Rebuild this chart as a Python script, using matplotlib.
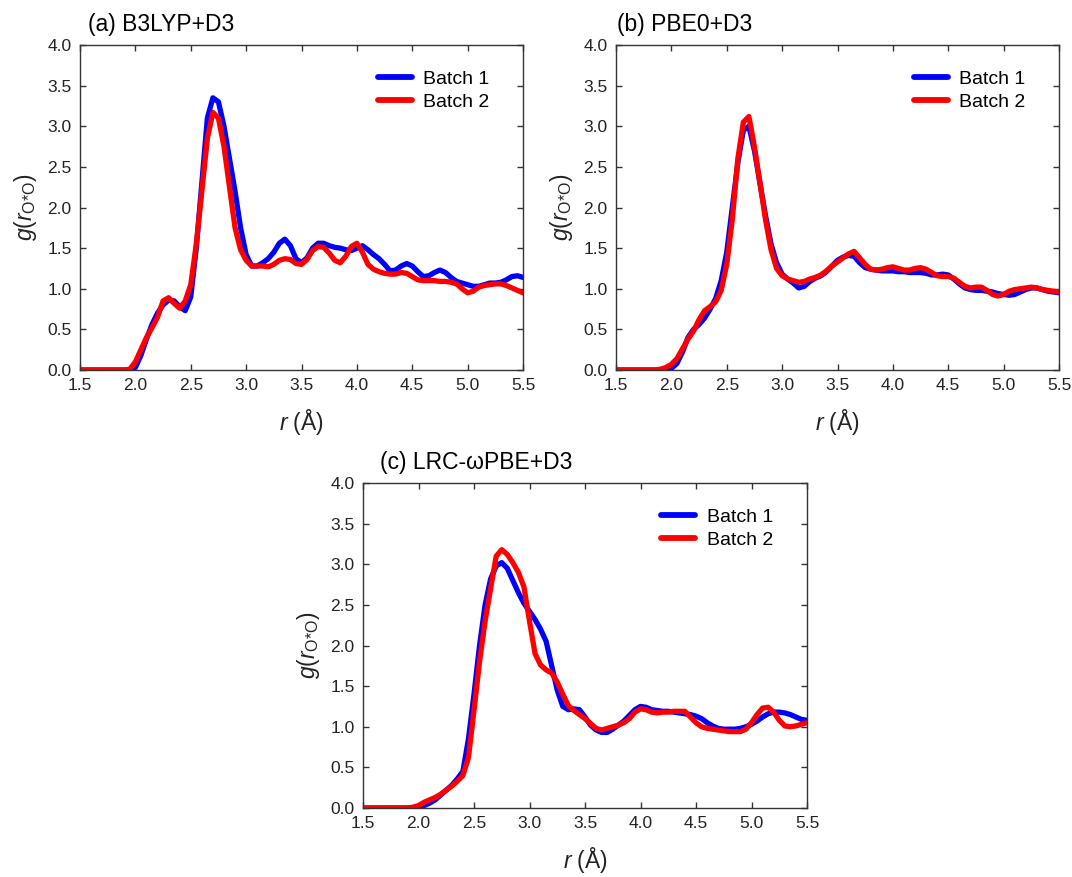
import numpy as np
import matplotlib
matplotlib.use("Agg")
import matplotlib.pyplot as plt

plt.rcParams['font.family'] = ['Liberation Sans', 'DejaVu Sans']
plt.rcParams['mathtext.fontset'] = 'custom'
plt.rcParams['mathtext.rm'] = 'Liberation Sans'
plt.rcParams['mathtext.it'] = 'Liberation Sans:italic'
plt.rcParams['mathtext.bf'] = 'Liberation Sans:bold'

# r grid (Å), 0.05 Å sampling
r = np.linspace(1.5, 5.5, 81)

# (a) B3LYP+D3
a_batch1 = [0, 0, 0, 0, 0, 0, 0, 0, 0, 0,
            0.03, 0.18, 0.38, 0.56, 0.70, 0.80, 0.86, 0.85, 0.78, 0.73,
            0.90, 1.50, 2.30, 3.10, 3.35, 3.30, 3.00, 2.60, 2.20, 1.75,
            1.42, 1.28, 1.28, 1.32, 1.37, 1.45, 1.56, 1.61, 1.53, 1.37,
            1.32, 1.38, 1.50, 1.56, 1.56, 1.53, 1.51, 1.50, 1.48, 1.47,
            1.50, 1.53, 1.48, 1.42, 1.37, 1.30, 1.22, 1.23, 1.28, 1.31,
            1.28, 1.21, 1.15, 1.16, 1.20, 1.23, 1.20, 1.14, 1.09, 1.07,
            1.05, 1.03, 1.03, 1.05, 1.07, 1.07, 1.08, 1.11, 1.15, 1.16,
            1.14]
a_batch2 = [0, 0, 0, 0, 0, 0, 0, 0, 0, 0.01,
            0.10, 0.25, 0.40, 0.52, 0.65, 0.85, 0.89, 0.82, 0.76, 0.85,
            1.05, 1.55, 2.20, 2.85, 3.17, 3.10, 2.75, 2.25, 1.75, 1.48,
            1.35, 1.28, 1.28, 1.28, 1.27, 1.30, 1.35, 1.37, 1.36, 1.31,
            1.30, 1.36, 1.47, 1.52, 1.51, 1.44, 1.35, 1.32, 1.40, 1.52,
            1.56, 1.45, 1.30, 1.24, 1.21, 1.19, 1.18, 1.18, 1.20, 1.19,
            1.15, 1.11, 1.10, 1.10, 1.10, 1.09, 1.09, 1.08, 1.06, 1.00,
            0.95, 0.97, 1.02, 1.04, 1.05, 1.06, 1.06, 1.04, 1.01, 0.98,
            0.95]

# (b) PBE0+D3
b_batch1 = [0, 0, 0, 0, 0, 0, 0, 0, 0, 0,
            0.02, 0.08, 0.22, 0.40, 0.50, 0.56, 0.64, 0.75, 0.88, 1.10,
            1.45, 2.00, 2.55, 2.95, 3.00, 2.70, 2.30, 1.90, 1.55, 1.32,
            1.18, 1.12, 1.07, 1.01, 1.03, 1.09, 1.13, 1.16, 1.21, 1.28,
            1.35, 1.39, 1.41, 1.40, 1.32, 1.26, 1.24, 1.23, 1.22, 1.22,
            1.22, 1.21, 1.21, 1.20, 1.20, 1.20, 1.19, 1.17, 1.17, 1.18,
            1.17, 1.12, 1.06, 1.01, 0.99, 0.98, 0.98, 0.97, 0.96, 0.94,
            0.93, 0.92, 0.93, 0.96, 0.99, 1.01, 1.01, 0.99, 0.97, 0.96,
            0.95]
b_batch2 = [0, 0, 0, 0, 0, 0, 0, 0, 0.01, 0.03,
            0.07, 0.14, 0.26, 0.38, 0.48, 0.62, 0.73, 0.78, 0.84, 0.98,
            1.30, 1.85, 2.60, 3.05, 3.12, 2.75, 2.30, 1.85, 1.48, 1.25,
            1.16, 1.12, 1.10, 1.08, 1.09, 1.12, 1.14, 1.17, 1.22, 1.28,
            1.33, 1.38, 1.43, 1.46, 1.38, 1.30, 1.24, 1.23, 1.24, 1.26,
            1.27, 1.25, 1.23, 1.23, 1.25, 1.26, 1.24, 1.20, 1.16, 1.15,
            1.15, 1.13, 1.08, 1.03, 1.01, 1.02, 1.02, 0.98, 0.93, 0.91,
            0.93, 0.97, 0.99, 1.00, 1.01, 1.02, 1.01, 0.99, 0.98, 0.97,
            0.96]

# (c) LRC-wPBE+D3
c_batch1 = [0, 0, 0, 0, 0, 0, 0, 0, 0, 0,
            0.01, 0.03, 0.06, 0.10, 0.16, 0.22, 0.28, 0.36, 0.45, 0.85,
            1.40, 2.00, 2.50, 2.82, 2.98, 3.02, 2.95, 2.80, 2.65, 2.52,
            2.42, 2.32, 2.20, 2.05, 1.75, 1.45, 1.25, 1.21, 1.22, 1.21,
            1.12, 1.02, 0.96, 0.93, 0.93, 0.97, 1.02, 1.07, 1.14, 1.21,
            1.25, 1.24, 1.21, 1.20, 1.19, 1.19, 1.18, 1.17, 1.16, 1.15,
            1.13, 1.10, 1.05, 1.01, 0.98, 0.97, 0.97, 0.97, 0.98, 1.00,
            1.03, 1.07, 1.12, 1.16, 1.18, 1.18, 1.17, 1.15, 1.12, 1.09,
            1.08]
c_batch2 = [0, 0, 0, 0, 0, 0, 0, 0, 0, 0.01,
            0.03, 0.07, 0.10, 0.13, 0.17, 0.22, 0.27, 0.33, 0.40, 0.62,
            1.20, 1.80, 2.30, 2.70, 3.10, 3.18, 3.12, 3.02, 2.90, 2.72,
            2.30, 1.90, 1.76, 1.70, 1.66, 1.55, 1.40, 1.26, 1.20, 1.15,
            1.10, 1.04, 0.98, 0.96, 0.98, 1.00, 1.02, 1.05, 1.10, 1.18,
            1.22, 1.21, 1.18, 1.17, 1.18, 1.18, 1.19, 1.19, 1.19, 1.12,
            1.05, 1.00, 0.98, 0.97, 0.96, 0.95, 0.94, 0.94, 0.94, 0.97,
            1.05, 1.15, 1.23, 1.24, 1.18, 1.08, 1.01, 1.00, 1.01, 1.03,
            1.05]

panel_titles = ["(a) B3LYP+D3", "(b) PBE0+D3", "(c) LRC-\u03c9PBE+D3"]
series_labels = ["Batch 1", "Batch 2"]
series_colors = ["#0000ff", "#ff0000"]
xticks = [1.5, 2.0, 2.5, 3.0, 3.5, 4.0, 4.5, 5.0, 5.5]
yticks = [0.0, 0.5, 1.0, 1.5, 2.0, 2.5, 3.0, 3.5, 4.0]

W, H = 1072, 877
fig = plt.figure(figsize=(W / 100, H / 100), dpi=100)

# axes boxes in pixels: left, top, right, bottom
boxes = [(80, 45, 523, 370), (616, 45, 1059, 370), (363, 483, 807, 808)]
data = [(a_batch1, a_batch2), (b_batch1, b_batch2), (c_batch1, c_batch2)]
title_dx = [8, 1, 17]

tc = '#222222'
for box, (s1, s2), title, tdx in zip(boxes, data, panel_titles, title_dx):
    l, t, rr, b = box
    ax = fig.add_axes([l / W, 1 - b / H, (rr - l) / W, (b - t) / H])
    for ys, lab, col in zip((s1, s2), series_labels, series_colors):
        ax.plot(r, ys, color=col, lw=3.8, label=lab, solid_joinstyle='round',
                solid_capstyle='round')
    ax.set_xlim(1.5, 5.5)
    ax.set_ylim(0, 4.0)
    ax.set_xticks(xticks)
    ax.set_yticks(yticks)
    ax.set_xticklabels([f"{v:.1f}" for v in xticks])
    ax.set_yticklabels([f"{v:.1f}" for v in yticks])
    ax.tick_params(direction='in', length=4, width=1.0, top=True, right=True,
                   labelsize=12.5, colors='#333333', labelcolor=tc, pad=6)
    for sp in ax.spines.values():
        sp.set_color('#333333')
        sp.set_linewidth(1.0)
    ax.set_xlabel(r'$\mathit{r}$ (Å)', fontsize=16.5, color=tc, labelpad=10)
    ax.set_ylabel(r'$\mathit{g}(\mathit{r}_{\mathrm{O{*}O}})$', fontsize=16.5,
                  color=tc, labelpad=6)
    ax.text(tdx / (rr - l), 1 + 20 / (b - t), title, transform=ax.transAxes,
            fontsize=16.5, color='black', ha='left', va='center')
    leg = ax.legend(loc='upper right', bbox_to_anchor=(0.955, 0.965), frameon=False,
                    fontsize=14, handlelength=1.75, handletextpad=0.6,
                    labelspacing=0.3, borderaxespad=0.3)
    for line in leg.get_lines():
        line.set_linewidth(4.2)

fig.savefig("out.png", dpi=100)
